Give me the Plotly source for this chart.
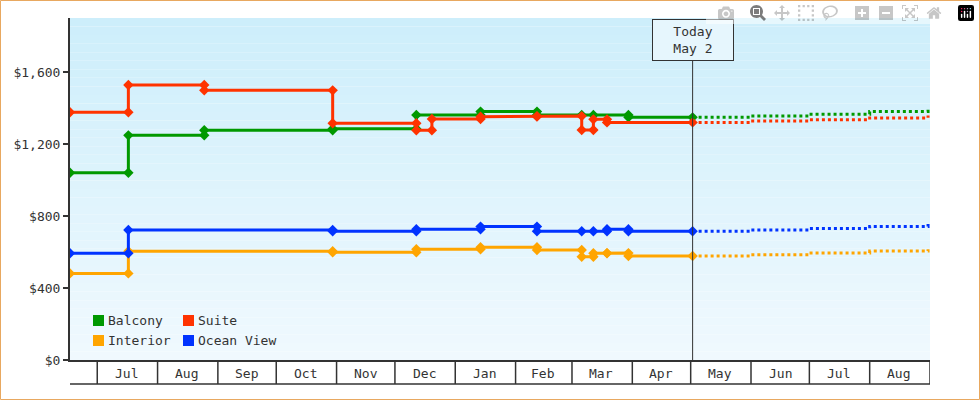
import plotly.graph_objects as go
from datetime import date

balcony_dates = ["2023-06-17","2023-07-17","2023-07-17","2023-08-25","2023-08-25","2023-10-30","2023-10-30","2023-12-12","2023-12-12","2024-01-14","2024-01-14","2024-02-12","2024-02-12","2024-03-06","2024-03-12","2024-03-30","2024-03-30","2024-05-02"]
balcony_vals = [1040,1040,1248,1248,1276,1276,1285,1285,1361,1361,1380,1380,1361,1361,1361,1361,1348,1348]
suite_dates = ["2023-06-17","2023-07-17","2023-07-17","2023-08-25","2023-08-25","2023-10-30","2023-10-30","2023-12-12","2023-12-12","2023-12-20","2023-12-20","2024-01-14","2024-01-14","2024-02-12","2024-02-12","2024-03-06","2024-03-06","2024-03-12","2024-03-12","2024-03-19","2024-03-19","2024-05-02"]
suite_vals = [1376,1376,1528,1528,1498,1498,1315,1315,1276,1276,1339,1339,1352,1352,1355,1355,1278,1278,1337,1337,1320,1320]
ocean_dates = ["2023-06-17","2023-07-17","2023-07-17","2023-10-30","2023-10-30","2023-12-12","2023-12-12","2024-01-14","2024-01-14","2024-02-12","2024-02-12","2024-03-06","2024-03-12","2024-03-19","2024-03-19","2024-03-30","2024-03-30","2024-05-02"]
ocean_vals = [593,593,722,722,715,715,726,726,741,741,715,715,715,715,726,726,715,715]
interior_dates = ["2023-06-17","2023-07-17","2023-07-17","2023-10-30","2023-10-30","2023-12-12","2023-12-12","2024-01-14","2024-01-14","2024-02-12","2024-02-12","2024-03-06","2024-03-06","2024-03-12","2024-03-12","2024-03-19","2024-03-19","2024-03-30","2024-03-30","2024-05-02"]
interior_vals = [481,481,604,604,598,598,615,615,626,626,611,611,574,574,593,593,594,594,578,578]

forecast_dates = ["2024-05-02","2024-06-01","2024-07-01","2024-08-01","2024-08-31"]
balcony_fc = [1348,1355,1365,1380,1395]
suite_fc = [1320,1328,1335,1345,1358]
ocean_fc = [715,722,730,742,755]
interior_fc = [578,585,595,605,615]

month_labels = ["Jul","Aug","Sep","Oct","Nov","Dec","Jan","Feb","Mar","Apr","May","Jun","Jul","Aug"]
month_starts = ["2023-07-01","2023-08-01","2023-09-01","2023-10-01","2023-11-01","2023-12-01","2024-01-01","2024-02-01","2024-03-01","2024-04-01","2024-05-01","2024-06-01","2024-07-01","2024-08-01","2024-09-01"]
y_ticks = [0,400,800,1200,1600]
y_labels = ["$0","$400","$800","$1,200","$1,600"]
today = "2024-05-02"

GREEN, RED, ORANGE, BLUE = "#009900", "#ff3300", "#ffa500", "#0033ff"
FONT = "DejaVu Sans Mono"

fig = go.Figure()
for d, v, c in [(interior_dates, interior_vals, ORANGE), (ocean_dates, ocean_vals, BLUE),
                (balcony_dates, balcony_vals, GREEN), (suite_dates, suite_vals, RED)]:
    fig.add_trace(go.Scatter(x=d, y=v, mode="lines+markers", line=dict(color=c, width=3),
                             marker=dict(symbol="diamond", size=8, color=c), showlegend=False, hoverinfo="skip"))
for v, c in [(interior_fc, ORANGE), (ocean_fc, BLUE), (balcony_fc, GREEN), (suite_fc, RED)]:
    fig.add_trace(go.Scatter(x=forecast_dates, y=v, mode="lines", line=dict(color=c, width=3, dash="dot", shape="hv"),
                             showlegend=False, hoverinfo="skip"))

shapes = []
N = 40
top = (205, 238, 251); bot = (240, 249, 254)
for i in range(N):
    t = i / (N - 1)
    col = tuple(round(top[k] + (bot[k] - top[k]) * t) for k in range(3))
    shapes.append(dict(type="rect", xref="paper", yref="paper", x0=0, x1=1,
                       y0=1 - (i + 1) / N, y1=1 - i / N, fillcolor="rgb(%d,%d,%d)" % col,
                       line=dict(width=0), layer="below"))
bh = 24 / 342
for ms in month_starts:
    shapes.append(dict(type="line", xref="x", yref="paper", x0=ms, x1=ms, y0=-bh, y1=0,
                       line=dict(color="#333", width=1.5)))
shapes.append(dict(type="line", xref="paper", yref="paper", x0=0, x1=1, y0=-bh, y1=-bh,
                   line=dict(color="#333", width=1.5)))
shapes.append(dict(type="line", xref="x", yref="paper", x0=today, x1=today, y0=0, y1=(360 - 20) / 342,
                   line=dict(color="#333", width=1)))
shapes.append(dict(type="rect", xref="paper", yref="paper", x0=-69.5 / 860, x1=909.5 / 860,
                   y0=-39.5 / 342, y1=(342 + 17.5) / 342, line=dict(color="#e8a860", width=1)))
legend = [("Balcony", GREEN, 93, 320), ("Suite", RED, 183, 320), ("Interior", ORANGE, 93, 340), ("Ocean View", BLUE, 183, 340)]
annotations = []
for name, c, x, y in legend:
    shapes.append(dict(type="rect", xref="paper", yref="paper", x0=(x - 70) / 860, x1=(x + 11 - 70) / 860,
                       y0=(360 - y - 6) / 342, y1=(360 - y + 5) / 342, fillcolor=c, line=dict(width=0)))
    annotations.append(dict(xref="paper", yref="paper", x=(x + 13 - 70) / 860, y=(360 - y) / 342,
                            text=name, showarrow=False, xanchor="left", yanchor="middle",
                            font=dict(family=FONT, size=13, color="#333")))
annotations.append(dict(xref="x", yref="paper", x=today, y=(360 - 40) / 342, text="Today<br>May 2",
                        showarrow=False, xanchor="center", yanchor="middle", bgcolor="#e6f6fd",
                        bordercolor="#333", borderwidth=1, borderpad=4, width=72,
                        font=dict(family=FONT, size=13, color="#333")))
mids = [(date.fromisoformat(month_starts[i]) + (date.fromisoformat(month_starts[i + 1]) - date.fromisoformat(month_starts[i])) / 2).isoformat()
        for i in range(len(month_labels))]
for m, lab in zip(mids, month_labels):
    annotations.append(dict(xref="x", yref="paper", x=m, y=-4 / 342, text=lab, showarrow=False,
                            xanchor="center", yanchor="top",
                            font=dict(family=FONT, size=13, color="#333")))

fig.update_layout(
    width=980, height=400, margin=dict(l=70, r=50, t=18, b=40),
    paper_bgcolor="white", plot_bgcolor="rgba(0,0,0,0)",
    shapes=shapes, annotations=annotations,
    font=dict(family=FONT, size=13, color="#333"),
    xaxis=dict(range=["2023-06-17", "2024-09-01"], showgrid=False, showticklabels=False, ticks="", zeroline=False,
               showline=True, linecolor="#333", linewidth=1.5),
    yaxis=dict(range=[0, 1900], tickvals=y_ticks, ticktext=y_labels, ticks="outside", ticklen=5, tickwidth=2,
               tickcolor="#333", showgrid=False, zeroline=False, showline=True, linecolor="#333", linewidth=2),
)
fig.write_html("out.html")
with open("out.html", encoding="utf-8") as f:
    html = f.read()
html = html.replace("<head>", "<head><style>html,body{margin:0;padding:0;overflow:hidden}</style>", 1)
with open("out.html", "w", encoding="utf-8") as f:
    f.write(html)
